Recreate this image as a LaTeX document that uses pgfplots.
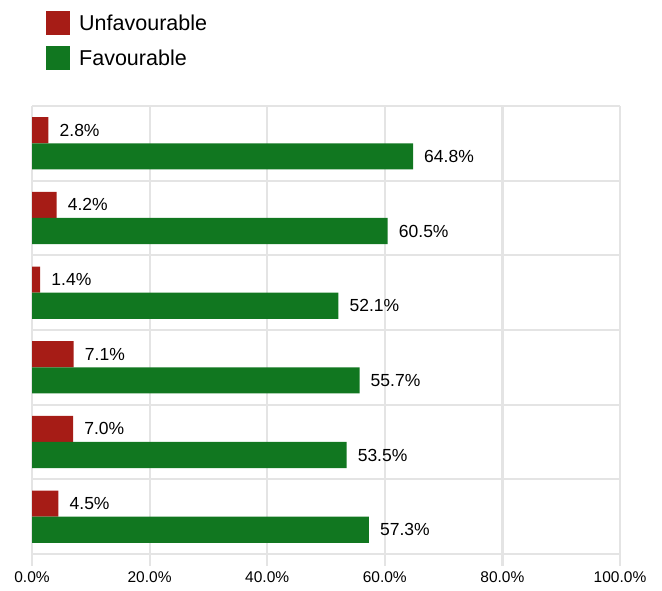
\documentclass[border=0pt]{standalone}
\usepackage{pgfplots}
\pgfplotsset{compat=1.18}
\usepackage{fontspec}
\setmainfont{Liberation Sans}
\definecolor{unfav}{HTML}{A61C16}
\definecolor{fav}{HTML}{117720}
\definecolor{gridgray}{HTML}{E4E4E4}
\begin{document}
\begin{tikzpicture}
\useasboundingbox (-32bp,-37bp) rectangle (630bp,554bp);
\begin{axis}[
  at={(0,0)}, anchor=south west,
  scale only axis, width=588bp, height=448bp,
  xmin=0, xmax=100, ymin=0.5, ymax=6.5,
  xtick={0,20,40,60,80,100},
  xticklabels={0.0\%,20.0\%,40.0\%,60.0\%,80.0\%,100.0\%},
  ytick={0.5,1.5,2.5,3.5,4.5,5.5,6.5},
  yticklabels={},
  xmajorgrids, ymajorgrids,
  grid style={color=gridgray, line width=2.2bp},
  axis line style={draw=none},
  xtick pos=left, tick align=outside, major tick length=12bp,
  x tick style={color=gridgray, line width=2.2bp},
  y tick style={draw=none},
  ticklabel style={font=\fontsize{15.5bp}{18bp}\selectfont},
  xticklabel style={yshift=-2bp},
  xbar, bar width=0.35,
  nodes near coords={\pgfmathprintnumber[fixed,fixed zerofill,precision=1,assume math mode=true]{\pgfplotspointmeta}\%},
  nodes near coords style={anchor=west, inner sep=0pt, xshift=11bp, font=\fontsize{17.5bp}{20bp}\selectfont, black},
  legend style={at={(axis description cs:0.0238,1.212)}, anchor=north west, draw=none, fill=none,
     font=\fontsize{21.5bp}{24bp}\selectfont, row sep=11bp, inner sep=0pt,
     nodes={inner sep=1bp}},
  legend cell align=left,
  legend image code/.code={\fill[#1] (0bp,-12bp) rectangle (24bp,12bp); \path (32bp,0bp);},
]
\addplot[draw=none, fill=unfav, bar shift=0.175] coordinates {
 (2.8,6) (4.2,5) (1.4,4) (7.1,3) (7.0,2) (4.5,1)};
\addlegendentry{Unfavourable}
\addplot[draw=none, fill=fav, bar shift=-0.175] coordinates {
 (64.8,6) (60.5,5) (52.1,4) (55.7,3) (53.5,2) (57.3,1)};
\addlegendentry{Favourable}
\end{axis}
\end{tikzpicture}
\end{document}
